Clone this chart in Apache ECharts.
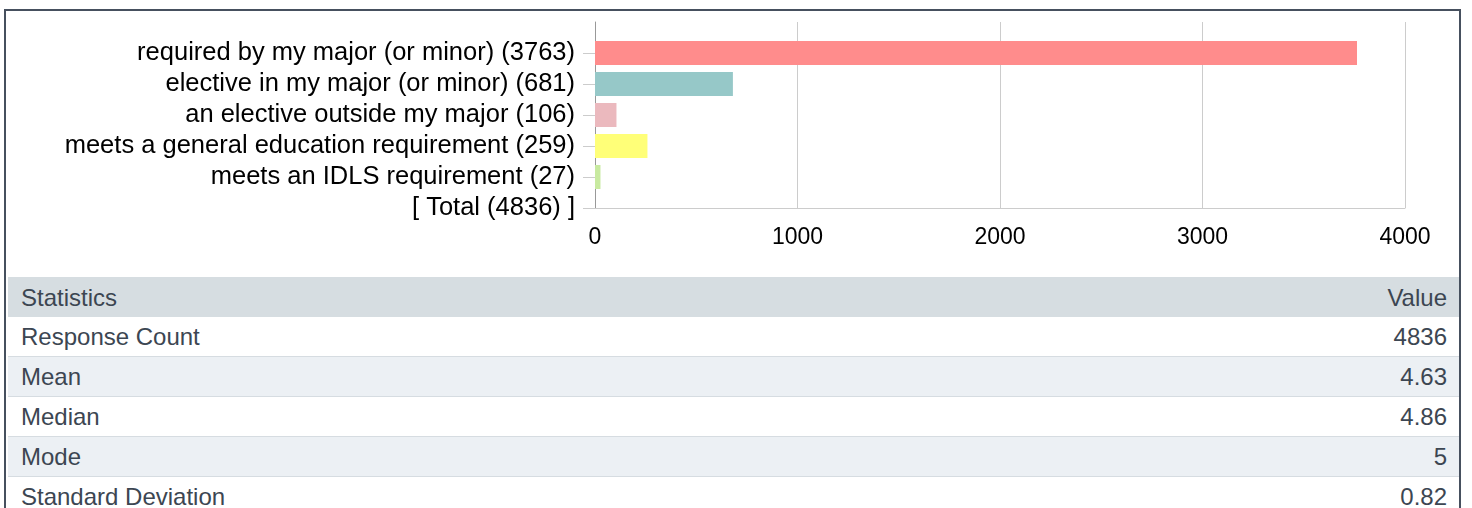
<!DOCTYPE html>
<html>
<head>
<meta charset="utf-8">
<script src="https://cdn.jsdelivr.net/npm/echarts@6/dist/echarts.min.js"></script>
<style>
  html, body { margin: 0; padding: 0; background: #fff; width: 1472px; height: 508px; overflow: hidden; }
  #frame { position: absolute; left: 4px; top: 9px; width: 1457px; height: 520px; border: 2px solid #46505e; border-bottom: none; box-sizing: border-box; }
  #chart { position: absolute; left: 0; top: 0; width: 1472px; height: 270px; }
  #stats { position: absolute; left: 8px; top: 277px; width: 1451px; border-collapse: collapse; font-family: "Liberation Sans", Arial, sans-serif; font-size: 24px; color: #3c4652; }
  #stats td, #stats th { height: 39px; padding: 0 12px 0 13px; font-weight: normal; border-bottom: 1.5px solid #d6dce1; line-height: 39px; white-space: nowrap; }
  #stats th { background: #d6dde1; text-align: left; border-bottom: none; height: 40px; }
  #stats tr:nth-child(even) td { background: #ecf0f4; }
  #stats .v { text-align: right; }
</style>
</head>
<body>
<div id="frame"></div>
<div id="chart"></div>
<table id="stats"><thead><tr><th>Statistics</th><th class="v" style="text-align:right">Value</th></tr></thead><tbody id="tb"></tbody></table>
<script>
const categories = [
  "required by my major (or minor) (3763)",
  "elective in my major (or minor) (681)",
  "an elective outside my major (106)",
  "meets a general education requirement (259)",
  "meets an IDLS requirement (27)",
  "[ Total (4836) ]"
];
const values = [3763, 681, 106, 259, 27, null];
const barColors = ["#ff8c8c", "#96c8c8", "#ebb9be", "#ffff78", "#c8eaa0", "#cccccc"];
const xTicks = [0, 1000, 2000, 3000, 4000];
const statNames = ["Response Count", "Mean", "Median", "Mode", "Standard Deviation"];
const statValues = ["4836", "4.63", "4.86", "5", "0.82"];

const tb = document.getElementById('tb');
statNames.forEach((n, i) => {
  const tr = document.createElement('tr');
  const a = document.createElement('td'); a.textContent = n;
  const b = document.createElement('td'); b.textContent = statValues[i]; b.className = 'v';
  tr.appendChild(a); tr.appendChild(b); tb.appendChild(tr);
});

// leading blank slot keeps the first category one step below the plot top
const yCats = [''].concat(categories);
const yData = [null].concat(values.map((v, i) => v == null ? null : { value: v, itemStyle: { color: barColors[i] } }));

const chart = echarts.init(document.getElementById('chart'), null, { renderer: 'canvas' });
chart.setOption({
  animation: false,
  grid: { left: 595, right: 67, top: 22, bottom: 62, containLabel: false },
  xAxis: {
    type: 'value', min: xTicks[0], max: xTicks[xTicks.length - 1], interval: 1000,
    axisLine: { show: true, onZero: false, lineStyle: { color: '#cccccc' } },
    axisTick: { show: false },
    splitLine: { show: true, lineStyle: { color: '#cccccc', width: 1 } },
    axisLabel: { color: '#000', fontSize: 23, fontFamily: 'Liberation Sans, Arial, sans-serif', margin: 18, formatter: (v) => String(v) }
  },
  yAxis: {
    type: 'category', data: yCats, inverse: true, boundaryGap: false,
    axisLine: { show: true, lineStyle: { color: '#999999', width: 1 } },
    axisTick: { show: true, length: 12, interval: (i) => i > 0, lineStyle: { color: '#cccccc' } },
    splitLine: { show: false },
    axisLabel: { color: '#000', fontSize: 25.5, fontFamily: 'Liberation Sans, Arial, sans-serif', margin: 20, interval: 0 }
  },
  series: [{
    type: 'bar', data: yData, barWidth: 24, silent: true
  }]
});
</script>
</body>
</html>
